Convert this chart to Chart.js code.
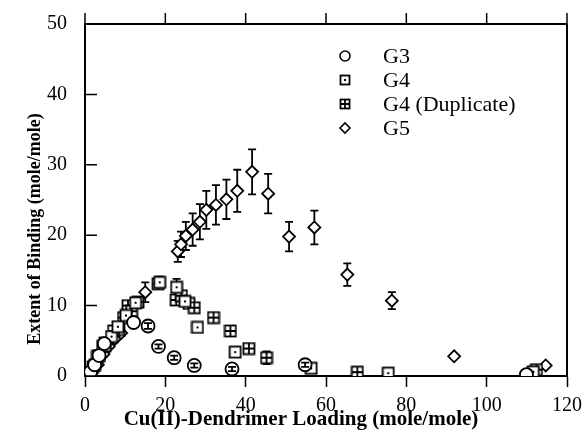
<!DOCTYPE html>
<html>
<head>
<meta charset="utf-8">
<script src="https://cdn.jsdelivr.net/npm/chart.js@4.4.0/dist/chart.umd.min.js"></script>
<style>
  html, body { margin: 0; padding: 0; background: #fff; }
  #wrap { width: 588px; height: 439px; position: relative; }
</style>
</head>
<body>
<div id="wrap"><canvas id="chartBinding"></canvas></div>
<script>
// Datos
const g3X = [0.6, 1.4, 2.4, 3.5, 4.8, 12.1, 15.7, 18.3, 22.2, 27.2, 36.6, 54.8, 109.9];
const g3Y = [0.2, 0.6, 1.6, 2.9, 4.6, 7.6, 7.1, 4.2, 2.6, 1.5, 1.0, 1.6, 0.2];
const g3Err = [0, 0, 0, 0, 0, 0, 0.4, 0.3, 0.3, 0.3, 0.3, 0.3, 0];

const g4X = [1.0, 2.4, 3.6, 5.0, 6.6, 8.2, 10.2, 12.6, 18.6, 22.8, 24.9, 28.0, 37.4, 56.3, 75.5, 111.6];
const g4Y = [0.4, 1.5, 2.9, 4.3, 5.6, 7.0, 8.6, 10.4, 13.3, 12.6, 10.6, 6.9, 3.4, 1.1, 0.4, 0.6];
const g4Err = [0, 0, 0, 0, 0, 0, 0, 0, 0.8, 1.2, 0, 0, 0, 0, 0, 0];

const g4dX = [0.8, 2.0, 3.1, 4.4, 5.0, 7.1, 8.4, 9.6, 10.7, 11.6, 13.2, 18.2, 22.7, 24.0, 25.9, 27.2, 32.0, 36.2, 40.8, 45.2, 67.8, 112.4];
const g4dY = [0.3, 1.3, 2.8, 4.2, 4.7, 6.4, 6.6, 8.3, 10.0, 9.2, 10.5, 13.1, 10.8, 11.4, 10.3, 9.7, 8.3, 6.4, 3.9, 2.6, 0.55, 0.9];
const g4dErr = [0, 0, 0, 0, 0, 0, 0, 0, 0, 0, 0, 0, 0, 0, 0, 0, 0, 0, 0.5, 0.9, 0, 0];

const g5X = [1.5, 3.2, 4.6, 5.9, 7.5, 9.0, 11.1, 15.0, 23.1, 23.9, 25.1, 26.8, 28.6, 30.2, 32.6, 35.2, 37.9, 41.6, 45.6, 50.8, 57.1, 65.3, 76.4, 91.9, 114.7];
const g5Y = [0.3, 1.6, 3.1, 4.2, 5.3, 6.1, 8.2, 11.9, 17.7, 18.7, 19.9, 20.8, 21.9, 23.6, 24.3, 25.1, 26.3, 29.0, 25.9, 19.8, 21.1, 14.4, 10.7, 2.8, 1.5];
const g5Err = [0, 0, 0.3, 0.3, 0.4, 0.4, 0.6, 1.4, 1.5, 1.8, 2.0, 2.3, 2.5, 2.7, 2.8, 2.8, 3.0, 3.2, 2.8, 2.1, 2.4, 1.6, 1.2, 0, 0];

const xTicks = [0, 20, 40, 60, 80, 100, 120];
const yTicks = [0, 10, 20, 30, 40, 50];

const seriesNames = ['G3', 'G4', 'G4 (Duplicate)', 'G5'];
const xTitle = 'Cu(II)-Dendrimer Loading (mole/mole)';
const yTitle = 'Extent of Binding (mole/mole)';

const serif = "'Liberation Serif', 'Times New Roman', serif";

// Marcadores cuadrados (punto central o cuadrícula)
function makeBox(kind, size) {
  const c = document.createElement('canvas');
  c.width = size + 3;
  c.height = size + 3;
  const g = c.getContext('2d');
  const o = 1.5, s = size;
  g.fillStyle = '#fff';
  g.strokeStyle = '#000';
  g.lineWidth = 1.8;
  g.fillRect(o, o, s, s);
  g.strokeRect(o, o, s, s);
  const m = o + s / 2;
  if (kind === 'dot') {
    g.fillStyle = '#000';
    g.fillRect(m - 1, m - 1, 2, 2);
  } else {
    g.beginPath();
    g.moveTo(m, o); g.lineTo(m, o + s);
    g.moveTo(o, m); g.lineTo(o + s, m);
    g.stroke();
  }
  return c;
}

const boxDot = makeBox('dot', 11);
const boxGrid = makeBox('grid', 11);
const boxDotSmall = makeBox('dot', 9);
const boxGridSmall = makeBox('grid', 9);

const toPoints = (xs, ys) => xs.map((x, i) => ({ x: x, y: ys[i] }));

function drawBars(chart, onTop) {
  const ctx = chart.ctx;
  const xs = chart.scales.x;
  const ys = chart.scales.y;
  chart.data.datasets.forEach(ds => {
    if (!ds.errorBars || !!ds.barsOnTop !== onTop) return;
    ctx.save();
    ctx.strokeStyle = '#000';
    ctx.lineWidth = 1.8;
    ds.data.forEach((p, j) => {
      const e = ds.errorBars[j];
      if (!e) return;
      const px = xs.getPixelForValue(p.x);
      const y1 = ys.getPixelForValue(p.y + e);
      const y2 = ys.getPixelForValue(p.y - e);
      ctx.beginPath();
      ctx.moveTo(px, y1); ctx.lineTo(px, y2);
      ctx.moveTo(px - 4, y1); ctx.lineTo(px + 4, y1);
      ctx.moveTo(px - 4, y2); ctx.lineTo(px + 4, y2);
      ctx.stroke();
    });
    ctx.restore();
  });
}

const errorBarPlugin = {
  id: 'errorBars',
  beforeDatasetsDraw(chart) { drawBars(chart, false); },
  afterDatasetsDraw(chart) { drawBars(chart, true); }
};

// Marco, marcas interiores, títulos de ejes y leyenda
const framePlugin = {
  id: 'frame',
  afterDraw(chart) {
    const ctx = chart.ctx;
    const a = chart.chartArea;
    const xs = chart.scales.x;
    const ys = chart.scales.y;
    ctx.save();
    ctx.strokeStyle = '#000';
    ctx.lineWidth = 2;
    ctx.beginPath();
    ctx.moveTo(a.left, a.top); ctx.lineTo(a.right, a.top);
    ctx.moveTo(a.right, a.top); ctx.lineTo(a.right, a.bottom);
    ctx.stroke();

    ctx.lineWidth = 1.5;
    ctx.beginPath();
    yTicks.forEach(v => {
      const py = ys.getPixelForValue(v);
      ctx.moveTo(a.left, py); ctx.lineTo(a.left + 12, py);
    });
    xTicks.forEach(v => {
      const px = xs.getPixelForValue(v);
      ctx.moveTo(px, a.top); ctx.lineTo(px, a.top - 11);
    });
    ctx.stroke();

    ctx.fillStyle = '#000';
    ctx.textAlign = 'center';
    ctx.textBaseline = 'middle';
    ctx.font = 'bold 21px ' + serif;
    ctx.fillText(xTitle, 301, 420);
    ctx.save();
    ctx.translate(35, 229);
    ctx.rotate(-Math.PI / 2);
    ctx.font = 'bold 18px ' + serif;
    ctx.fillText(yTitle, 0, 0);
    ctx.restore();

    const rows = [56, 80, 104, 128];
    ctx.textAlign = 'left';
    ctx.font = '22px ' + serif;
    chart.data.datasets.forEach((ds, i) => {
      const y = rows[i];
      ctx.strokeStyle = '#000';
      ctx.fillStyle = '#fff';
      ctx.lineWidth = 1.6;
      Chart.helpers.drawPoint(ctx, {
        pointStyle: ds.legendStyle,
        radius: 5,
        rotation: 0,
        borderWidth: 1.6
      }, 345, y);
      ctx.fillStyle = '#000';
      ctx.fillText(ds.label, 383, y + 1);
    });
    ctx.restore();
  }
};

const ctxBinding = document.getElementById('chartBinding');
new Chart(ctxBinding, {
  type: 'scatter',
  data: {
    datasets: [
      {
        label: seriesNames[0],
        data: toPoints(g3X, g3Y),
        errorBars: g3Err,
        barsOnTop: true,
        pointStyle: 'circle',
        legendStyle: 'circle',
        pointRadius: 6.5,
        borderWidth: 1.8,
        borderColor: '#000',
        backgroundColor: '#fff'
      },
      {
        label: seriesNames[1],
        data: toPoints(g4X, g4Y),
        errorBars: g4Err,
        pointStyle: boxDot,
        legendStyle: boxDotSmall,
        pointRadius: 6,
        borderColor: '#000',
        backgroundColor: '#fff'
      },
      {
        label: seriesNames[2],
        data: toPoints(g4dX, g4dY),
        errorBars: g4dErr,
        pointStyle: boxGrid,
        legendStyle: boxGridSmall,
        pointRadius: 6,
        borderColor: '#000',
        backgroundColor: '#fff'
      },
      {
        label: seriesNames[3],
        data: toPoints(g5X, g5Y),
        errorBars: g5Err,
        pointStyle: 'rectRot',
        legendStyle: 'rectRot',
        pointRadius: 6,
        borderWidth: 1.8,
        borderColor: '#000',
        backgroundColor: '#fff'
      }
    ]
  },
  options: {
    responsive: true,
    maintainAspectRatio: false,
    animation: false,
    events: [],
    layout: { padding: { left: 0, right: 21, top: 24, bottom: 0 } },
    plugins: {
      legend: { display: false },
      tooltip: { enabled: false }
    },
    scales: {
      x: {
        type: 'linear',
        min: 0,
        max: 120,
        afterFit: s => { s.height = 63; s.paddingLeft = 0; s.paddingRight = 0; },
        afterBuildTicks: s => { s.ticks = xTicks.map(v => ({ value: v })); },
        border: { display: true, color: '#000', width: 2 },
        grid: { drawOnChartArea: false, drawTicks: true, tickLength: 11, color: '#000', tickColor: '#000', tickWidth: 1.5 },
        ticks: { color: '#000', padding: 7, maxRotation: 0, font: { family: serif, size: 20 } }
      },
      y: {
        type: 'linear',
        min: 0,
        max: 50,
        afterFit: s => { s.width = 85; s.paddingTop = 0; s.paddingBottom = 0; },
        afterBuildTicks: s => { s.ticks = yTicks.map(v => ({ value: v })); },
        border: { display: true, color: '#000', width: 2 },
        grid: { display: false, drawTicks: false },
        ticks: { color: '#000', padding: 18, font: { family: serif, size: 20 } }
      }
    }
  },
  plugins: [errorBarPlugin, framePlugin]
});
</script>
</body>
</html>
